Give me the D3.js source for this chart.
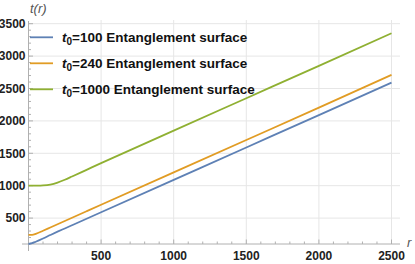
<!DOCTYPE html>
<html>
<head>
<meta charset="utf-8">
<script src="https://cdn.jsdelivr.net/npm/d3@7"></script>
<style>
  body { margin: 0; background: #fff; }
  svg { display: block; font-family: "Liberation Sans", Arial, sans-serif; }
</style>
</head>
<body>
<div id="chart"></div>
<script>
// values
const rValues = [0, 25, 50, 100, 150, 200, 250, 300, 400, 500, 1000, 1500, 2000, 2500];
const t100 = [100, 112, 135, 185, 238, 290, 340, 390, 490, 590, 1090, 1590, 2090, 2590];
const t240 = [240, 242, 257, 305, 355, 405, 455, 505, 605, 705, 1205, 1705, 2205, 2710];
const t1000 = [1000, 1000, 1001, 1005, 1018, 1048, 1092, 1142, 1245, 1348, 1850, 2350, 2850, 3352];

const seriesNames = ["100", "240", "1000"];
const seriesColors = ["#5e81b5", "#e19c24", "#8fb032"];
const seriesValues = [t100, t240, t1000];

const xTicks = [500, 1000, 1500, 2000, 2500];
const yTicks = [500, 1000, 1500, 2000, 2500, 3000, 3500];

const W = 415, H = 264;

const svg = d3.select("#chart")
    .append("svg")
    .attr("width", W)
    .attr("height", H);

const x = d3.scaleLinear().domain([0, 2500]).range([28.5, 391.5]);
const y = d3.scaleLinear().domain([100, 3500]).range([244, 23.7]);

const axisY = y(100);
const gridColor = "#e6e6e6";
const axisColor = "#b0b0b0";

// grid lines
svg.append("g")
    .selectAll("line")
    .data(xTicks)
    .enter().append("line")
    .attr("x1", d => x(d)).attr("x2", d => x(d))
    .attr("y1", 20).attr("y2", axisY)
    .attr("stroke", gridColor).attr("stroke-width", 1);

svg.append("g")
    .selectAll("line")
    .data(yTicks)
    .enter().append("line")
    .attr("x1", x(0)).attr("x2", 400)
    .attr("y1", d => y(d)).attr("y2", d => y(d))
    .attr("stroke", gridColor).attr("stroke-width", 1);

// axes lines
svg.append("line")
    .attr("x1", 22).attr("x2", 400)
    .attr("y1", axisY).attr("y2", axisY)
    .attr("stroke", axisColor);

svg.append("line")
    .attr("x1", x(0)).attr("x2", x(0))
    .attr("y1", 21).attr("y2", 251)
    .attr("stroke", axisColor);

// ticks (inward, major + minor)
const xMinor = d3.range(100, 2600, 100);
svg.append("g")
    .selectAll("line")
    .data(xMinor)
    .enter().append("line")
    .attr("x1", d => x(d)).attr("x2", d => x(d))
    .attr("y1", axisY)
    .attr("y2", d => axisY - (d % 500 === 0 ? 4.5 : 2.5))
    .attr("stroke", axisColor);

const yMinor = d3.range(200, 3600, 100);
svg.append("g")
    .selectAll("line")
    .data(yMinor)
    .enter().append("line")
    .attr("x1", x(0))
    .attr("x2", d => x(0) + (d % 500 === 0 ? 4.5 : 2.5))
    .attr("y1", d => y(d)).attr("y2", d => y(d))
    .attr("stroke", axisColor);

// tick labels
svg.append("g")
    .selectAll("text")
    .data(xTicks)
    .enter().append("text")
    .attr("x", d => x(d))
    .attr("y", 259.5)
    .attr("text-anchor", "middle")
    .attr("font-size", "12px")
    .attr("font-weight", "bold")
    .attr("fill", "#222")
    .text(d => d);

svg.append("g")
    .selectAll("text")
    .data(yTicks)
    .enter().append("text")
    .attr("x", 25.5)
    .attr("y", d => y(d))
    .attr("dy", "0.36em")
    .attr("text-anchor", "end")
    .attr("font-size", "12px")
    .attr("font-weight", "bold")
    .attr("fill", "#222")
    .text(d => d);

// axis labels
svg.append("text")
    .attr("x", 407)
    .attr("y", 247)
    .attr("font-size", "13px")
    .attr("font-style", "italic")
    .attr("fill", "#555")
    .text("r");

svg.append("text")
    .attr("x", 30)
    .attr("y", 13)
    .attr("font-size", "13px")
    .attr("font-style", "italic")
    .attr("fill", "#555")
    .text("t(r)");

// curves
const line = d3.line()
    .x((d, i) => x(rValues[i]))
    .y(d => y(d))
    .curve(d3.curveMonotoneX);

svg.append("g")
    .selectAll("path")
    .data(seriesValues)
    .enter().append("path")
    .attr("d", d => line(d))
    .attr("fill", "none")
    .attr("stroke", (d, i) => seriesColors[i])
    .attr("stroke-width", 1.8);

// legend
const legend = svg.append("g")
    .selectAll("g")
    .data(seriesNames)
    .enter().append("g")
    .attr("transform", (d, i) => `translate(30,${37.3 + i * 26})`);

legend.append("line")
    .attr("x1", 0).attr("x2", 23)
    .attr("stroke", (d, i) => seriesColors[i])
    .attr("stroke-width", 1.8);

const lt = legend.append("text")
    .attr("x", 32)
    .attr("dy", "0.36em")
    .attr("font-size", "13.5px")
    .attr("font-weight", "bold")
    .attr("fill", "#111");

lt.append("tspan").attr("font-style", "italic").text("t");
lt.append("tspan").attr("font-size", "10px").attr("dy", "3").text("0");
lt.append("tspan").attr("dy", "-3").text(d => `=${d} Entanglement surface`);
</script>
</body>
</html>
